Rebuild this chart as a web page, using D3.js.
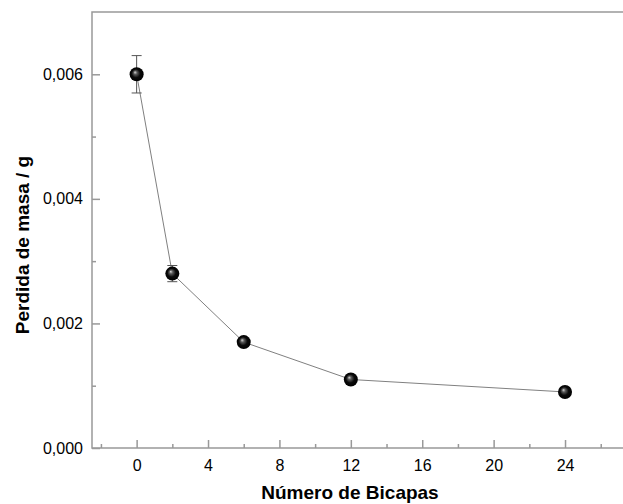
<!DOCTYPE html>
<html><head><meta charset="utf-8">
<script src="https://cdn.jsdelivr.net/npm/d3@7"></script>
<style>body{margin:0;background:#fff}svg{display:block}</style>
</head><body><svg id="c" width="623" height="504"></svg>
<script>
const bicapas = [0, 2, 6, 12, 24];
const perdida = [0.0060, 0.0028, 0.0017, 0.0011, 0.0009];
const errores = [0.0003, 0.00013, 0.00004, 0.00004, 0.00004];
const xTicks = [0, 4, 8, 12, 16, 20, 24];
const xMinor = [-2, 2, 6, 10, 14, 18, 22, 26];
const yTicks = [0, 0.002, 0.004, 0.006];
const yMinor = [0.001, 0.003, 0.005];
const xTitle = "Número de Bicapas";
const yTitle = "Perdida de masa / g";

const svg = d3.select("#c");
const L = 92, T = 12, B = 448;
const x = d3.scaleLinear().domain([-2.5, 27.5]).range([L, L + 30 * 17.85]);
const y = d3.scaleLinear().domain([0, 0.007]).range([B, T]);
const fmt = d => d3.format(".3f")(d).replace(".", ",");
const axisCol = "#999";
const font = "Liberation Sans, Arial, sans-serif";

const defs = svg.append("defs");
const g = defs.append("radialGradient").attr("id", "sph").attr("cx", "0.5").attr("cy", "0.5").attr("r", "0.5").attr("fx", "0.38").attr("fy", "0.35");
g.append("stop").attr("offset", "0").attr("stop-color", "#d8d8d8");
g.append("stop").attr("offset", "0.25").attr("stop-color", "#5a5a5a");
g.append("stop").attr("offset", "0.6").attr("stop-color", "#0a0a0a");
g.append("stop").attr("offset", "1").attr("stop-color", "#000");

svg.append("rect").attr("x", x.range()[0]).attr("y", T).attr("width", x.range()[1] - x.range()[0]).attr("height", B - T)
  .attr("fill", "none").attr("stroke", axisCol).attr("stroke-width", 1.5);

const xa = svg.append("g").attr("transform", `translate(0,${B})`)
  .call(d3.axisBottom(x).tickValues(xTicks).tickSize(-8).tickPadding(12).tickFormat(d3.format("d")));
xa.select(".domain").remove();
xa.selectAll(".tick line").attr("stroke", axisCol).attr("stroke-width", 1.5);
xa.selectAll(".tick text").attr("font-family", font).attr("font-size", 16).attr("fill", "#000");
const xm = svg.append("g").attr("transform", `translate(0,${B})`)
  .call(d3.axisBottom(x).tickValues(xMinor).tickSize(-4).tickFormat(""));
xm.select(".domain").remove();
xm.selectAll(".tick line").attr("stroke", axisCol).attr("stroke-width", 1.5);

const ya = svg.append("g").attr("transform", `translate(${L},0)`)
  .call(d3.axisLeft(y).tickValues(yTicks).tickSize(-8).tickPadding(9).tickFormat(fmt));
ya.select(".domain").remove();
ya.selectAll(".tick line").attr("stroke", axisCol).attr("stroke-width", 1.5);
ya.selectAll(".tick text").attr("font-family", font).attr("font-size", 16).attr("fill", "#000");
const ym = svg.append("g").attr("transform", `translate(${L},0)`)
  .call(d3.axisLeft(y).tickValues(yMinor).tickSize(-4).tickFormat(""));
ym.select(".domain").remove();
ym.selectAll(".tick line").attr("stroke", axisCol).attr("stroke-width", 1.5);

const data = bicapas.map((b, i) => ({x: b, y: perdida[i], e: errores[i]}));

svg.append("path").datum(data)
  .attr("d", d3.line().x(d => x(d.x)).y(d => y(d.y)))
  .attr("fill", "none").attr("stroke", "#808080").attr("stroke-width", 1);

const eb = svg.append("g").attr("stroke", "#555").attr("stroke-width", 1);
data.forEach(d => {
  eb.append("line").attr("x1", x(d.x)).attr("x2", x(d.x)).attr("y1", y(d.y - d.e)).attr("y2", y(d.y + d.e));
  [d.y - d.e, d.y + d.e].forEach(v => eb.append("line").attr("x1", x(d.x) - 5).attr("x2", x(d.x) + 5).attr("y1", y(v)).attr("y2", y(v)));
});

svg.append("g").selectAll("circle").data(data).join("circle")
  .attr("cx", d => x(d.x)).attr("cy", d => y(d.y)).attr("r", 7).attr("fill", "url(#sph)");

svg.append("text").attr("x", 350).attr("y", 499).attr("text-anchor", "middle")
  .attr("font-family", font).attr("font-size", 19).attr("font-weight", "bold").text(xTitle);
svg.append("text").attr("transform", "translate(29,245) rotate(-90)").attr("text-anchor", "middle")
  .attr("font-family", font).attr("font-size", 19).attr("font-weight", "bold").text(yTitle);
</script></body></html>
